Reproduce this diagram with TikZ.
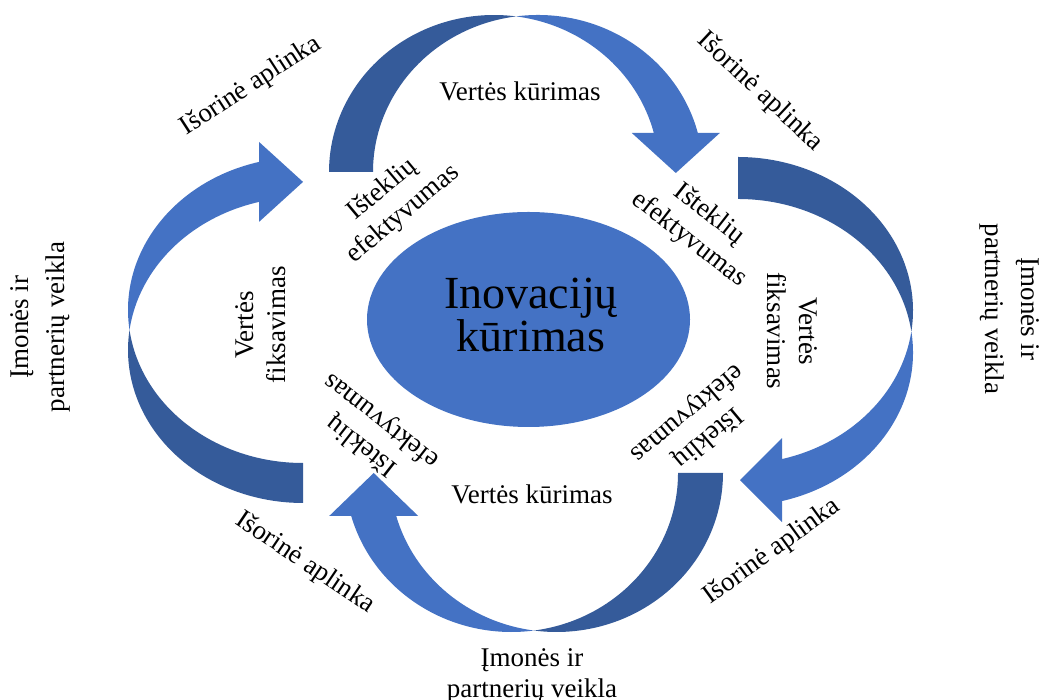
\documentclass[tikz,border=0pt]{standalone}
\usepackage{fontspec}
\setmainfont{Liberation Serif}
\usetikzlibrary{shapes.geometric}
\definecolor{lightband}{HTML}{4472C4}
\definecolor{darkband}{RGB}{53,91,154}
% #1 band thickness, #2 x radius, #3 y radius, #4 neck height, #5 barb overhang, #6 tip depth
\newcommand{\bentarrow}[6]{%
  \pgfmathsetmacro{\tA}{acos(#1/(2*#2))}%
  \pgfmathsetmacro{\tB}{180-\tA}%
  \pgfmathsetmacro{\ph}{asin(#4/#3)}%
  \pgfmathsetmacro{\cph}{#2*cos(\ph)}%
  \pgfmathsetmacro{\Px}{#2+#1/2}%
  \pgfmathsetmacro{\Py}{#3*sin(\tA)}%
  \fill[darkband] (0,0) arc[start angle=180, end angle=\tA, x radius=#2pt, y radius=#3pt]
    arc[start angle=\tB, end angle=180, x radius=#2pt, y radius=#3pt] -- cycle;
  \fill[lightband] (\Px,\Py) arc[start angle=\tB, end angle=\ph, x radius=#2pt, y radius=#3pt]
    -- ({#1+#2+\cph+#5},#4) -- ({#2+#1/2+\cph},{#4-#6}) -- ({#2+\cph-#5},#4)
    -- ({#2+\cph},#4) arc[start angle=\ph, end angle=\tA, x radius=#2pt, y radius=#3pt] -- cycle;
}
\begin{document}
\begin{tikzpicture}[x=1pt,y=1pt,
  lbl/.style={font=\fontsize{27}{32}\selectfont, align=center, inner sep=0pt, text=black},
  widelbl/.style={font=\fontsize{27}{36}\selectfont, align=center, inner sep=0pt, text=black},
  corestyle/.style={ellipse, fill=lightband, draw=none, minimum width=323pt, minimum height=215pt, inner sep=0pt}]
\fill[white] (0,0) rectangle (1043,700);
\useasboundingbox (0,0) rectangle (1043,700);

% curved arrows
\begin{scope}[shift={(329,528)}]
  \bentarrow{44}{165}{157}{39}{22}{40}
\end{scope}
\begin{scope}[shift={(738,543)}, rotate=-90]
  \bentarrow{42}{153.5}{175}{44}{21}{42}
\end{scope}
\begin{scope}[shift={(723,227)}, rotate=180]
  \bentarrow{45}{166.5}{159}{43}{22}{43}
\end{scope}
\begin{scope}[shift={(303,197)}, rotate=90]
  \bentarrow{40}{153}{175}{44}{20}{44}
\end{scope}

% centre
\node[corestyle] (core) at (528.5,380.5) {};
\node[font=\fontsize{46}{43}\selectfont, align=center, inner sep=0pt] (coretext) at (531,385) {Inovacijų\\kūrimas};

% outer labels
\node[lbl, rotate=33] (isoTL) at (251,614) {Išorinė aplinka};
\node[lbl, rotate=-43] (isoTR) at (760,608) {Išorinė aplinka};
\node[lbl, rotate=-34] (isoBL) at (305,137) {Išorinė aplinka};
\node[lbl, rotate=36] (isoBR) at (772,148) {Išorinė aplinka};

\node[widelbl, rotate=90] (imL) at (40,373) {Įmonės ir\\partnerių veikla};
\node[widelbl, rotate=-90] (imR) at (1010,391) {Įmonės ir\\partnerių veikla};
\node[font=\fontsize{27}{31}\selectfont, align=center, inner sep=0pt] (imB) at (532,24) {Įmonės ir\\partnerių veikla};

% inner labels
\node[lbl] (vkT) at (520,609) {Vertės kūrimas};
\node[lbl] (vkB) at (532,206) {Vertės kūrimas};
\node[lbl, rotate=90] (vfL) at (261,375) {Vertės\\fiksavimas};
\node[lbl, rotate=-90] (vfR) at (792,369) {Vertės\\fiksavimas};

\node[lbl, rotate=40] (isTL) at (393,498) {Išteklių\\efektyvumas};
\node[lbl, rotate=-38] (isTR) at (699,473) {Išteklių\\efektyvumas};
\node[lbl, rotate=142] (isBL) at (372,267) {Išteklių\\efektyvumas};
\node[lbl, rotate=-140] (isBR) at (697,275) {Išteklių\\efektyvumas};
\end{tikzpicture}
\end{document}
